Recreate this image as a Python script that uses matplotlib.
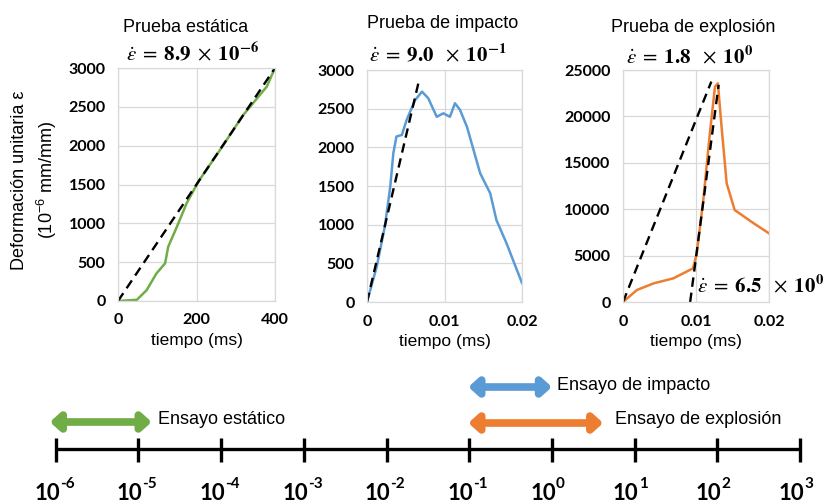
import matplotlib
matplotlib.use("Agg")
import matplotlib.pyplot as plt

plt.rcParams["font.family"] = ["Liberation Sans", "DejaVu Sans"]
plt.rcParams["mathtext.fontset"] = "custom"
plt.rcParams["mathtext.rm"] = "Liberation Sans"
plt.rcParams["mathtext.bf"] = "Lato:bold"

# ---- data ----
static_t = [0, 48, 73, 98, 120, 128, 150, 175, 205, 260, 319, 379, 396]
static_eps = [0, 15, 140, 355, 485, 700, 955, 1260, 1540, 1945, 2395, 2760, 2955]
static_fit_t = [0, 400]
static_fit_eps = [0, 3000]

impact_t = [0, 0.00125, 0.0023, 0.003, 0.0034, 0.0038, 0.0045, 0.0051, 0.0062, 0.0071,
            0.0079, 0.009, 0.00985, 0.0107, 0.01135, 0.012, 0.0129, 0.0146, 0.0159,
            0.0167, 0.018, 0.02]
impact_eps = [0, 455, 975, 1490, 1925, 2140, 2160, 2350, 2610, 2720,
              2635, 2395, 2440, 2395, 2570, 2485, 2265, 1665, 1405,
              1060, 760, 245]
impact_fit_t = [0, 0.0067]
impact_fit_eps = [0, 2860]

blast_t = [0, 0.0019, 0.0042, 0.0069, 0.0096, 0.0101, 0.011, 0.0119, 0.0126, 0.013,
           0.0135, 0.0142, 0.0153, 0.0179, 0.02]
blast_eps = [0, 1290, 2010, 2550, 3630, 5240, 10990, 18180, 23200, 23560,
             18900, 12790, 9910, 8480, 7400]
blast_fit1_t = [0, 0.0121]
blast_fit1_eps = [0, 23750]
blast_fit2_t = [0.0092, 0.0131]
blast_fit2_eps = [0, 23400]

panel_titles = ["Prueba estática", "Prueba de impacto", "Prueba de explosión"]
rate_labels = [r"$\boldsymbol{\dot{\varepsilon}}\;=\;\mathbf{8.9}\;\times\;\mathbf{10^{-6}}$",
               r"$\boldsymbol{\dot{\varepsilon}}\;=\;\mathbf{9.0}\ \;\times\;\mathbf{10^{-1}}$",
               r"$\boldsymbol{\dot{\varepsilon}}\;=\;\mathbf{1.8}\ \;\times\;\mathbf{10^{0}}$"]
rate_label_2 = r"$\boldsymbol{\dot{\varepsilon}}\;=\;\mathbf{6.5}\ \;\times\;\mathbf{10^{0}}$"

decades = list(range(-6, 4))
ranges = {
    "Ensayo estático": (-6.07, -4.84),
    "Ensayo de impacto": (-1.01, 0.0),
    "Ensayo de explosión": (-1.01, 0.62),
}

GREEN = "#70ad47"
BLUE = "#5b9bd5"
ORANGE = "#ed7d31"

fig = plt.figure(figsize=(8.38, 5.03), dpi=100)

W, H = 838, 503


def px_axes(x0, y0, x1, y1):
    """Axes from pixel box (top-left origin)."""
    return fig.add_axes([x0 / W, 1 - y1 / H, (x1 - x0) / W, (y1 - y0) / H])


tick_font = dict(family="Lato", weight="bold", size=11.5)


def style_panel(ax, xlim, xticks, xticklabels, ylim, yticks):
    ax.set_xlim(*xlim)
    ax.set_ylim(*ylim)
    ax.set_xticks(xticks)
    ax.set_xticklabels(xticklabels, **tick_font)
    ax.set_yticks(yticks)
    ax.set_yticklabels([str(v) for v in yticks], **tick_font)
    ax.tick_params(axis="x", length=0, pad=9)
    ax.tick_params(axis="y", length=0, pad=9)
    ax.grid(True, color="#d9d9d9", lw=0.9)
    ax.set_axisbelow(True)
    for s in ax.spines.values():
        s.set_color("#d9d9d9")
        s.set_linewidth(0.9)
    ax.set_xlabel("tiempo (ms)", fontsize=12.5, labelpad=4)


dash = (0, (4, 2.5))

ax1 = px_axes(118, 68, 275, 301)
ax1.plot(static_t, static_eps, color=GREEN, lw=1.8)
ax1.plot(static_fit_t, static_fit_eps, color="black", lw=1.7, ls=dash)
style_panel(ax1, (0, 400), [0, 200, 400], ["0", "200", "400"],
            (0, 3000), list(range(0, 3001, 500)))

ax2 = px_axes(367, 70, 522, 302)
ax2.plot(impact_t, impact_eps, color=BLUE, lw=1.8)
ax2.plot(impact_fit_t, impact_fit_eps, color="black", lw=1.7, ls=dash)
style_panel(ax2, (0, 0.02), [0, 0.01, 0.02], ["0", "0.01", "0.02"],
            (0, 3000), list(range(0, 3001, 500)))

ax3 = px_axes(623, 70, 769, 302)
ax3.plot(blast_t, blast_eps, color=ORANGE, lw=1.8)
ax3.plot(blast_fit1_t, blast_fit1_eps, color="black", lw=1.7, ls=dash)
ax3.plot(blast_fit2_t, blast_fit2_eps, color="black", lw=1.7, ls=dash)
style_panel(ax3, (0, 0.02), [0, 0.01, 0.02], ["0", "0.01", "0.02"],
            (0, 25000), list(range(0, 25001, 5000)))
ax3.text(0.0101, 1800, rate_label_2, fontsize=15, math_fontfamily="stix",
         ha="left", va="center", clip_on=False)

title_pos = [(186, 27), (443, 24), (693, 28)]
rate_pos = [(192, 54), (438, 54), (690, 56)]
for title, rate, (tx, ty), (rx, ry) in zip(panel_titles, rate_labels, title_pos, rate_pos):
    fig.text(tx / W, 1 - ty / H, title, ha="center", va="center", fontsize=13)
    fig.text(rx / W, 1 - ry / H, rate, ha="center", va="center", fontsize=15,
             math_fontfamily="stix")

fig.text(20 / W, 1 - 180 / H, "Deformación unitaria ε", rotation=90,
         ha="center", va="center", fontsize=13)
fig.text(47 / W, 1 - 180 / H, r"(10$^{-6}$ mm/mm)", rotation=90,
         ha="center", va="center", fontsize=13)

# ---- strain-rate scale ----
PPD = 82.7  # pixels per decade
axs = fig.add_axes([0, 0, 1, 140 / H])
axs.set_xlim(-6 - 55.7 / PPD, 3 + 38 / PPD)
axs.set_ylim(140, 0)
axs.axis("off")
y0 = 363
line_y = 449 - y0
axs.plot([decades[0], decades[-1]], [line_y, line_y], color="black", lw=2.4,
         solid_capstyle="butt")
axs.vlines(decades, line_y - 11, line_y + 13, color="black", lw=2.4)
for d in decades:
    axs.text(d + 4 / PPD, 493 - y0, "10", ha="right", va="center",
             fontsize=16, family="Lato", weight="bold")
    axs.text(d + 4 / PPD, 484 - y0, "-%d" % -d if d < 0 else "%d" % d,
             ha="left", va="center", fontsize=11, family="Lato", weight="bold")

arrow_specs = [
    ("Ensayo estático", GREEN, 422 - y0, 6),
    ("Ensayo de impacto", BLUE, 387 - y0, 5),
    ("Ensayo de explosión", ORANGE, 423 - y0, 12),
]
text_y = {"Ensayo estático": 420 - y0, "Ensayo de impacto": 386 - y0,
          "Ensayo de explosión": 419 - y0}
for label, color, y, gap in arrow_specs:
    lo, hi = ranges[label]
    axs.annotate("", xy=(hi, y), xytext=(lo, y),
                 arrowprops=dict(arrowstyle="<|-|>,head_length=0.55,head_width=0.5",
                                 color=color, lw=5.5, shrinkA=0, shrinkB=0,
                                 mutation_scale=10))
    axs.text(hi + gap / PPD, text_y[label], label, ha="left", va="center", fontsize=13)

fig.savefig("out.png", dpi=100)
